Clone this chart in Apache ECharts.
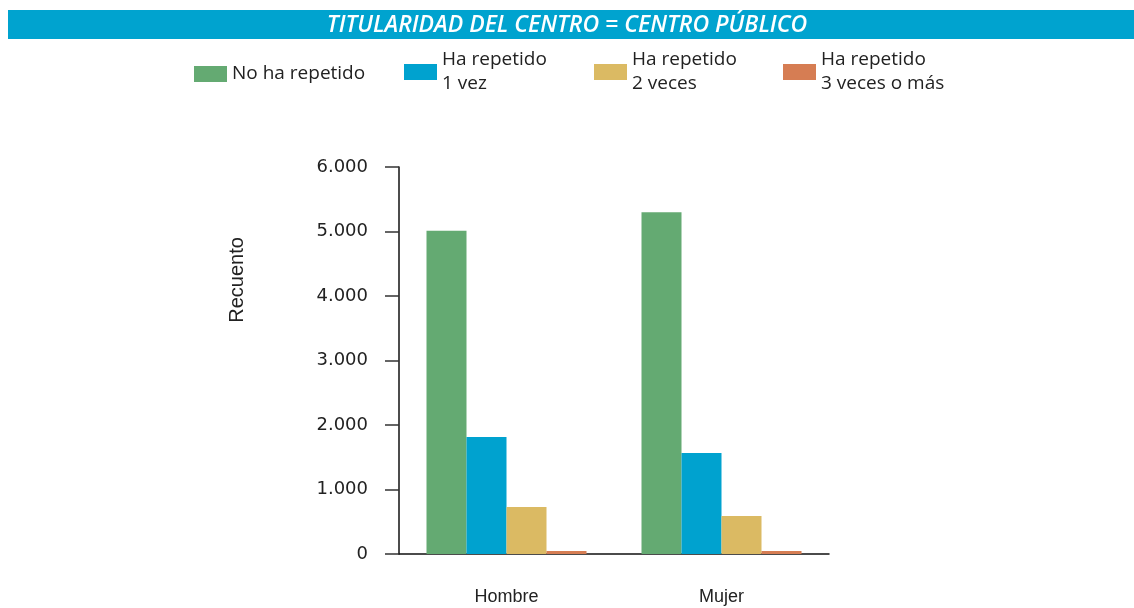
<!DOCTYPE html>
<html>
<head>
<meta charset="utf-8">
<script src="https://cdn.jsdelivr.net/npm/echarts@6/dist/echarts.min.js"></script>
<style>
  html, body { margin: 0; padding: 0; background: #fff; }
  #chart { width: 1134px; height: 608px; }
</style>
</head>
<body>
<div id="chart"></div>
<script>
const categories = ['Hombre', 'Mujer'];
const seriesNames = ['No ha repetido', 'Ha repetido\n1 vez', 'Ha repetido\n2 veces', 'Ha repetido\n3 veces o más'];
const noRepetido = [5010, 5300];
const repetido1 = [1815, 1565];
const repetido2 = [730, 590];
const repetido3 = [45, 45];
const yTicks = [0, 1000, 2000, 3000, 4000, 5000, 6000];

const colors = ['#64AA72', '#00A2CF', '#DBBA63', '#D67D53'];
const legendLeft = [194, 404, 594, 783];
const textColor = '#222';

const chart = echarts.init(document.getElementById('chart'));

// single-line item sits on its own, two-line items get pushed up so the box centres on the square
const legends = seriesNames.map((name, i) => {
  const twoLines = name.indexOf('\n') > -1;
  return {
    data: [name],
    left: legendLeft[i],
    top: twoLines ? 40 : 62,
    padding: 0,
    icon: 'rect',
    itemWidth: 33,
    itemHeight: 16,
    itemGap: 0,
    selectedMode: false,
    textStyle: {
      color: textColor,
      fontSize: 19,
      fontFamily: 'Open Sans',
      lineHeight: 24,
      padding: twoLines ? [0, 0, 16, 0] : 0
    }
  };
});

const barSeries = {
  type: 'bar',
  barWidth: 40,
  barGap: 0
};

const option = {
  animation: false,
  color: colors,
  graphic: [
    {
      type: 'rect',
      left: 8,
      top: 10,
      shape: { width: 1126, height: 29 },
      style: { fill: '#00A3CF' }
    },
    {
      type: 'text',
      left: 'center',
      top: 14,
      style: {
        text: 'TITULARIDAD DEL CENTRO = CENTRO PÚBLICO',
        fill: '#fff',
        font: 'italic 600 23px "Open Sans"'
      }
    },
    {
      type: 'text',
      x: 237,
      y: 280,
      rotation: Math.PI / 2,
      style: {
        text: 'Recuento',
        fill: textColor,
        font: '20px "Liberation Sans"',
        align: 'center',
        verticalAlign: 'middle'
      }
    }
  ],
  legend: legends,
  grid: {
    left: 399,
    right: 305,
    top: 167,
    bottom: 54
  },
  xAxis: {
    type: 'category',
    data: categories,
    axisLine: { lineStyle: { color: '#111', width: 1.5 } },
    axisTick: { show: false },
    axisLabel: {
      color: textColor,
      fontSize: 18,
      fontFamily: 'Liberation Sans',
      margin: 34
    }
  },
  yAxis: {
    type: 'value',
    min: yTicks[0],
    max: yTicks[yTicks.length - 1],
    interval: yTicks[1] - yTicks[0],
    splitLine: { show: false },
    axisLine: { show: true, lineStyle: { color: '#111', width: 1.5 } },
    axisTick: { show: true, length: 14, lineStyle: { color: '#333', width: 1.5 } },
    axisLabel: {
      color: textColor,
      fontSize: 18,
      fontFamily: 'DejaVu Sans',
      margin: 31,
      formatter: v => v.toString().replace(/\B(?=(\d{3})+(?!\d))/g, '.')
    }
  },
  series: [
    { name: seriesNames[0], ...barSeries, data: noRepetido },
    { name: seriesNames[1], ...barSeries, data: repetido1 },
    { name: seriesNames[2], ...barSeries, data: repetido2 },
    { name: seriesNames[3], ...barSeries, data: repetido3 }
  ]
};
chart.setOption(option);
</script>
</body>
</html>
